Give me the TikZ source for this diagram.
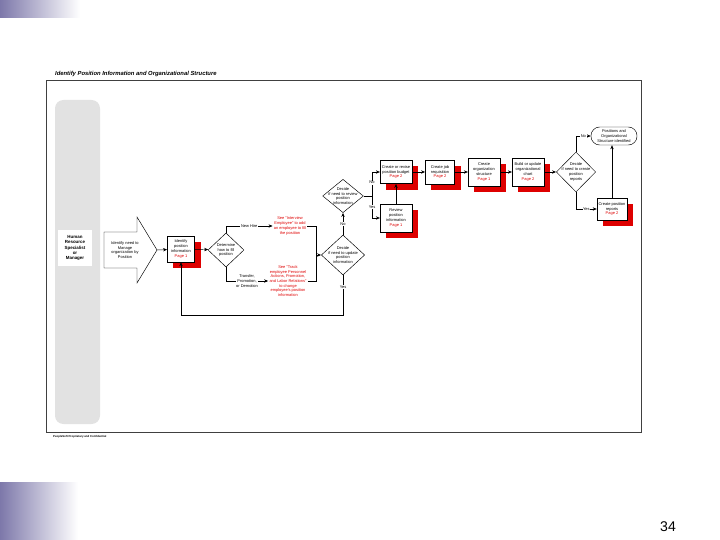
\documentclass[tikz,border=0pt]{standalone}
\usepackage{fontspec}
\setmainfont{Liberation Sans}
\usetikzlibrary{arrows.meta, positioning, shapes.geometric, shadows}
\definecolor{pagered}{RGB}{222,0,0}
\definecolor{slideblue}{RGB}{125,120,170}
\definecolor{lanegray}{RGB}{226,226,226}
\newcommand{\tinyfont}{\fontsize{3.4}{4}\selectfont}
\newcommand{\pg}[1]{{\color{pagered}Page #1}}

\begin{document}
\begin{tikzpicture}[
  x=0.03cm, y=-0.03cm,
  box/.style={draw, fill=white, align=center, inner sep=1pt, font=\tinyfont,
              minimum width=0.95cm, minimum height=0.78cm,
              drop shadow={shadow xshift=0.18cm, shadow yshift=-0.18cm,
                           fill=pagered, opacity=1}},
  decide/.style={diamond, draw, fill=white, inner sep=0pt,
                 label={[font=\tinyfont, align=center]center:{#1}}},
  note/.style={font=\tinyfont, text=pagered, align=center, inner sep=1pt},
  lbl/.style={font=\tinyfont, fill=white, inner sep=0.5pt, align=center},
  >={Stealth[length=1.2mm, width=1mm]},
  line width=0.4pt
]
\useasboundingbox (0,0) rectangle (720,540);

% slide decoration
\shade[left color=slideblue, right color=white] (0,0) rectangle (80,18);
\shade[left color=slideblue, right color=white] (0,482) rectangle (78,540);
\node[font=\fontsize{12}{14}\selectfont] (pnum) at (668,527) {34};

% frame and lane
\node[anchor=west, font=\bfseries\itshape\fontsize{5}{6}\selectfont] (title) at (51,74)
  {Identify Position Information and Organizational Structure};
\draw[line width=0.6pt, black!75] (46,80) rectangle (641,432);
\fill[lanegray, rounded corners=0.25cm] (55,100) rectangle (100,424);
\node[fill=white, font=\bfseries\fontsize{3.8}{4.6}\selectfont, align=center,
      minimum width=1cm, minimum height=1.1cm] (hr) at (75,248)
  {Human\\Resource\\Specialist\\or\\Manager};
\node[anchor=west, font=\bfseries\fontsize{2.4}{3}\selectfont] (foot) at (49,437)
  {PeopleSoft Proprietary and Confidential};

% start arrow
\draw[fill=white] (104,232) -- (137,232) -- (137,217) -- (157,250)
  -- (137,283) -- (137,268) -- (104,268) -- cycle;
\coordinate (tip) at (157,250);
\node[font=\tinyfont, align=center] (need) at (125,250)
  {Identify need to\\Manage\\organization by\\Position};

% steps
\node[box, minimum width=0.82cm] (idpos) at (181,249) {Identify\\position\\information\\\pg{1}};
\node[decide={Determine\\how to fill\\position}, minimum width=1.08cm, minimum height=1.02cm]
  (howfill) at (226,250) {};
\node[note] (hire) at (290,226) {See "Interview\\Employee" to add\\an employee to fill\\the position};
\node[note] (track) at (288,281) {See "Track\\employee Personnel\\Actions, Promotion,\\and Labor Relations"\\to change\\employee's position\\information};
\coordinate (join) at (316,255);
\node[decide={Decide\\if need to update\\position\\information}, minimum width=1.3cm, minimum height=1.2cm]
  (update) at (343,255) {};
\coordinate (back) at (343,315);
\node[decide={Decide\\if need to review\\position\\information}, minimum width=1.22cm, minimum height=1.0cm]
  (review) at (343,196) {};
\coordinate (split) at (372,196);
\node[box, minimum height=0.7cm] (budget) at (396,172) {Create or revise\\position budget\\\pg{2}};
\node[box, minimum height=0.85cm] (revpos) at (396,218) {Review\\position\\information\\\pg{1}};
\node[box, minimum width=0.88cm, minimum height=0.72cm] (jobreq) at (440,172) {Create job\\requisition\\\pg{2}};
\node[box, minimum height=0.85cm] (orgstr) at (484,172) {Create\\organization\\structure\\\pg{1}};
\node[box, minimum height=0.85cm] (orgchart) at (528,172) {Build or update\\organizational\\chart\\\pg{2}};
\node[decide={Decide\\if need to create\\position\\reports}, minimum width=1.18cm, minimum height=1.2cm]
  (reports) at (576,172) {};
\node[draw, fill=white, rounded corners=0.26cm, align=center, font=\tinyfont, inner sep=1pt,
      minimum width=1.38cm, minimum height=0.54cm] (done) at (614,136)
  {Positions and\\Organizational\\Structure identified};
\node[box, minimum width=0.9cm, minimum height=0.66cm] (crrep) at (612,209) {Create position\\reports\\\pg{2}};

% connectors
\draw[->] (tip) -- (idpos);
\draw[->] (idpos) -- (howfill);
\draw[->] (howfill.north) |- node[lbl, pos=0.75] {New Hire} (hire.west);
\draw[->] (howfill.south) |- node[lbl, pos=0.75] {Transfer,\\Promotion,\\or Demotion} (track.west);
\draw (hire.east) -| (join);
\draw (track.east) -| (join);
\draw[->] (join) -- (update.west);
\draw[->] (update.south) -- node[lbl, pos=0.3] {Yes} (back) -| (idpos.south);
\draw[->] (update.north) -- node[lbl] {No} (review.south);
\draw (review.east) -- (split);
\draw[->] (split) |- node[lbl, pos=0.28] {No} (budget.west);
\draw[->] (split) |- node[lbl, pos=0.25] {Yes} (revpos.west);
\draw[->] (revpos.north) -- (budget.south);
\draw[->] (budget) -- (jobreq);
\draw[->] (jobreq) -- (orgstr);
\draw[->] (orgstr) -- (orgchart);
\draw[->] (orgchart) -- (reports);
\draw[->] (reports.north) |- node[lbl, pos=0.75] {No} (done.west);
\draw[->] (reports.south) |- node[lbl, pos=0.75] {Yes} (crrep.west);
\draw[->] (crrep.north) -- (crrep.north |- done.south);
\end{tikzpicture}
\end{document}
